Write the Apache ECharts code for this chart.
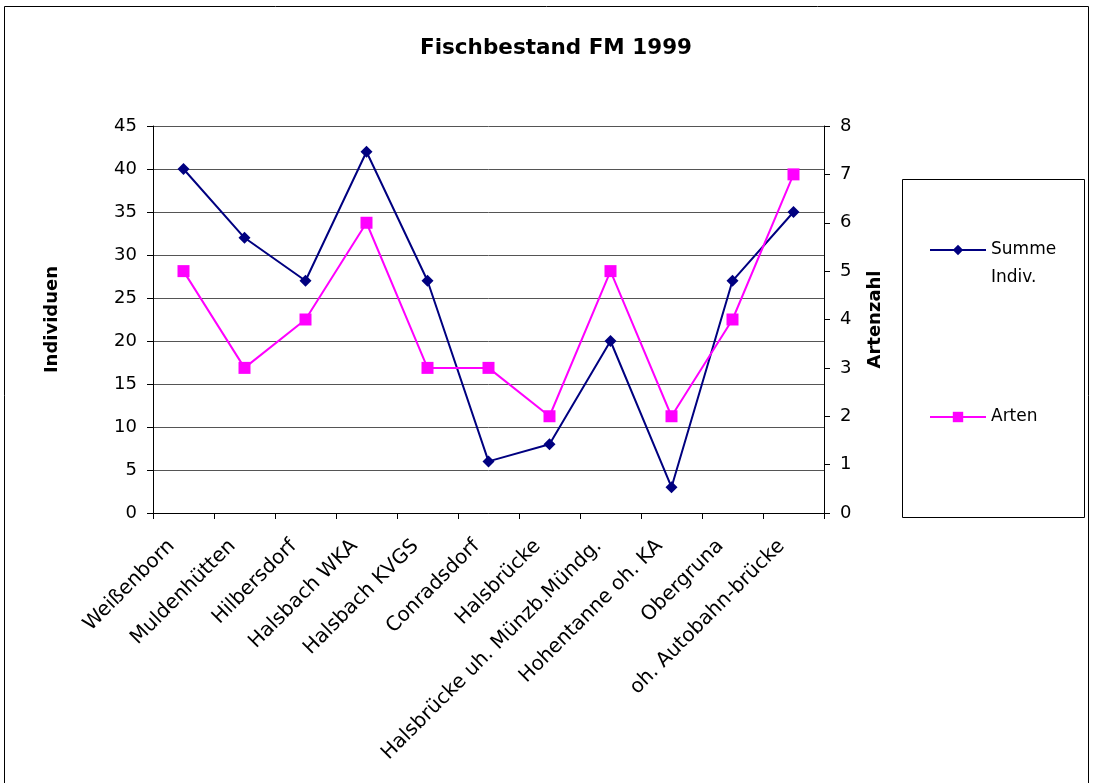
<!DOCTYPE html>
<html>
<head>
<meta charset="utf-8">
<script src="https://cdn.jsdelivr.net/npm/echarts@6/dist/echarts.min.js"></script>
<style>
html, body { margin: 0; padding: 0; background: #fff; }
#chart { width: 1093px; height: 783px; }
</style>
</head>
<body>
<div id="chart"></div>
<script>
var stations = ['Weißenborn', 'Muldenhütten', 'Hilbersdorf', 'Halsbach WKA', 'Halsbach KVGS', 'Conradsdorf',
	'Halsbrücke', 'Halsbrücke uh. Münzb.Mündg.', 'Hohentanne oh. KA', 'Obergruna', 'oh. Autobahn-brücke']
var summeIndiv = [40, 32, 27, 42, 27, 6, 8, 20, 3, 27, 35]
var arten = [5, 3, 4, 6, 3, 3, 2, 5, 2, 4, 7]

var font = 'DejaVu Sans, sans-serif'
var mychart = echarts.init(document.getElementById('chart'))

function legendBox(name, top) {
	return {
		orient: 'vertical',
		left: 929,
		top: top,
		padding: 0,
		itemWidth: 56,
		itemHeight: 13,
		textStyle: { fontFamily: font, fontSize: 17, color: '#000', lineHeight: 28 },
		// leading empty line keeps the marker level with the first text line
		formatter: function (n) { return n.indexOf('\n') >= 0 ? '\n' + n : n },
		data: [name]
	}
}

var option = {
	backgroundColor: '#fff',
	animation: false,
	title: {
		text: 'Fischbestand FM 1999',
		left: 415,
		top: 32,
		textStyle: { fontFamily: font, fontSize: 21.5, fontWeight: 'bold', color: '#000' }
	},
	graphic: [
		{ type: 'rect', z: -1, shape: { x: 4.5, y: 6.5, width: 1084, height: 800 },
			style: { fill: 'none', stroke: '#000', lineWidth: 1 } },
		{ type: 'rect', z: -1, shape: { x: 902.5, y: 179.5, width: 182, height: 338 },
			style: { fill: '#fff', stroke: '#000', lineWidth: 1 } }
	],
	legend: [legendBox('Summe\nIndiv.', 208), legendBox('Arten', 403)],
	grid: { left: 153, right: 269, top: 126, bottom: 270 },
	xAxis: {
		type: 'category',
		data: stations,
		boundaryGap: true,
		axisLine: { lineStyle: { color: '#000', width: 1 } },
		axisTick: { show: true, length: 6, lineStyle: { color: '#000' } },
		axisLabel: { interval: 0, rotate: 45, fontFamily: font, fontSize: 20, color: '#000', margin: 18, padding: [0, 17, 0, 0] }
	},
	yAxis: [
		{
			type: 'value', min: 0, max: 45, interval: 5,
			name: 'Individuen', nameLocation: 'middle', nameGap: 92, nameRotate: 90,
			nameTextStyle: { fontFamily: font, fontSize: 18, fontWeight: 'bold', color: '#000' },
			axisLine: { show: true, lineStyle: { color: '#000' } },
			axisTick: { show: true, length: 6, lineStyle: { color: '#000' } },
			axisLabel: { fontFamily: font, fontSize: 18, color: '#000', margin: 16 },
			splitLine: { show: true, lineStyle: { color: '#555', width: 1 } }
		},
		{
			type: 'value', min: 0, max: 8, interval: 1, position: 'right',
			name: 'Artenzahl', nameLocation: 'middle', nameGap: 42, nameRotate: 90,
			nameTextStyle: { fontFamily: font, fontSize: 18, fontWeight: 'bold', color: '#000' },
			axisLine: { show: true, lineStyle: { color: '#000' } },
			axisTick: { show: true, length: 6, lineStyle: { color: '#000' } },
			axisLabel: { fontFamily: font, fontSize: 18, color: '#000', margin: 16 },
			splitLine: { show: false }
		}
	],
	series: [
		{
			name: 'Summe\nIndiv.',
			type: 'line',
			yAxisIndex: 0,
			data: summeIndiv,
			symbol: 'diamond',
			symbolSize: 12,
			lineStyle: { color: '#000080', width: 2 },
			itemStyle: { color: '#000080' }
		},
		{
			name: 'Arten',
			type: 'line',
			yAxisIndex: 1,
			data: arten,
			symbol: 'rect',
			symbolSize: 12,
			lineStyle: { color: '#FF00FF', width: 2 },
			itemStyle: { color: '#FF00FF' }
		}
	]
}
mychart.setOption(option)
</script>
</body>
</html>
